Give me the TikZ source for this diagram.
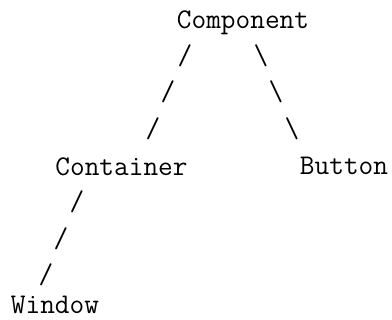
\documentclass[tikz,border=0pt]{standalone}
\usepackage{fontspec}
\begin{document}
\begin{tikzpicture}[x=1pt,y=1pt,
  label/.style={font=\ttfamily\fontsize{28.5}{31}\selectfont, inner sep=0pt, anchor=base},
  edgechar/.style={font=\ttfamily\fontsize{28.5}{31}\selectfont, inner sep=0pt, anchor=center}]
\useasboundingbox (0,0) rectangle (392,320);
% class names
\node[label] (comp) at (243,291) {Component};
\node[label] (cont) at (121.5,144) {Container};
\node[label] (btn)  at (344,145) {Button};
\node[label] (win)  at (55,6)      {Window};
% Component -- Container
\node[edgechar] (cc1) at (185,264) {/};
\node[edgechar] (cc2) at (168,228) {/};
\node[edgechar] (cc3) at (153,191) {/};
% Component -- Button
\node[edgechar] (cb1) at (261,264) {\textbackslash};
\node[edgechar] (cb2) at (276,228) {\textbackslash};
\node[edgechar] (cb3) at (292,191) {\textbackslash};
% Container -- Window
\node[edgechar] (cw1) at (77,118) {/};
\node[edgechar] (cw2) at (61,81)  {/};
\node[edgechar] (cw3) at (46,45)  {/};
\end{tikzpicture}
\end{document}
